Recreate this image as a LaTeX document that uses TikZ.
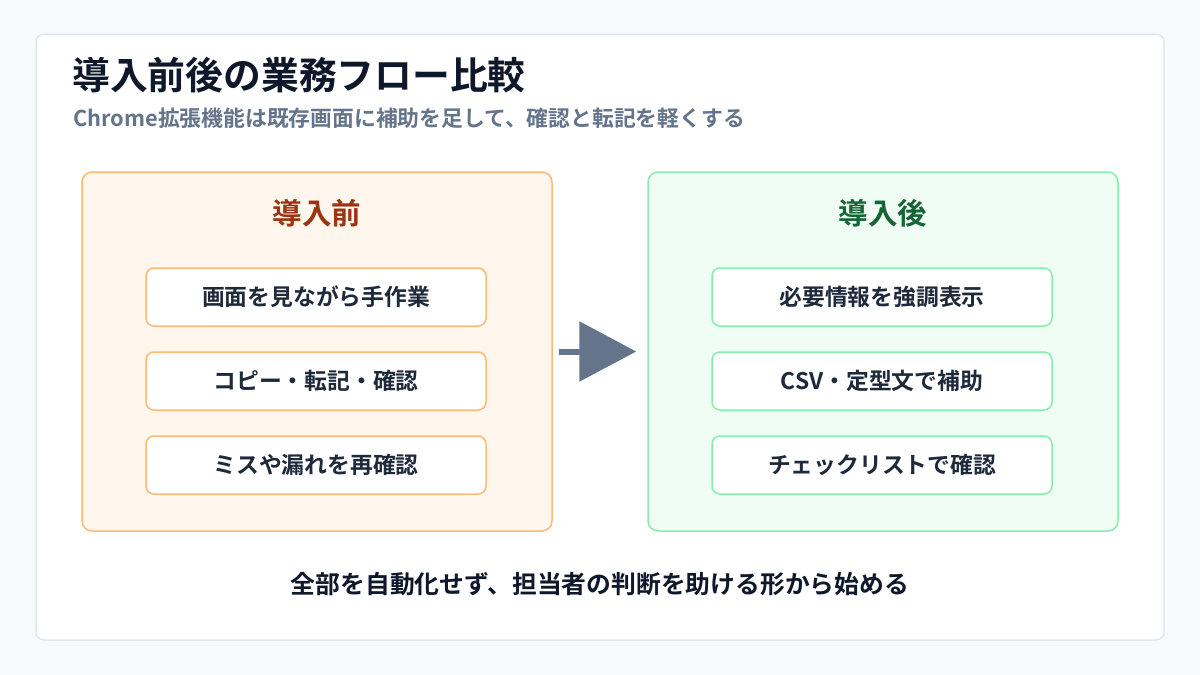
\documentclass[tikz,border=0pt]{standalone}
\usepackage{fontspec}
\setmainfont{Noto Sans CJK JP}[BoldFont={* Bold}]
\usetikzlibrary{arrows.meta}
\definecolor{bgc}{HTML}{F8FAFC}
\definecolor{cardborder}{HTML}{E2E8F0}
\definecolor{titlec}{HTML}{0F172A}
\definecolor{subc}{HTML}{64748B}
\definecolor{textc}{HTML}{1E293B}
\definecolor{orfill}{HTML}{FFF7ED}
\definecolor{ordraw}{HTML}{FDBA74}
\definecolor{ortext}{HTML}{9A3412}
\definecolor{grfill}{HTML}{F0FDF4}
\definecolor{grdraw}{HTML}{86EFAC}
\definecolor{grtext}{HTML}{166534}
\tikzset{
  panel/.style={rounded corners=10pt, line width=1.5pt, minimum width=470pt, minimum height=359pt, inner sep=0pt},
  itembox/.style={rounded corners=8pt, line width=1.5pt, fill=white, minimum width=340pt, minimum height=58pt, inner sep=0pt, font=\fontsize{22.8}{26}\selectfont\bfseries, text=textc},
  paneltitle/.style={font=\fontsize{29.5}{34}\selectfont\bfseries, inner sep=0pt},
}
\begin{document}
\begin{tikzpicture}[x=1pt,y=-1pt]
\fill[bgc] (0,0) rectangle (1200,675);
\useasboundingbox (0,0) rectangle (1200,675);
\node[draw=cardborder, fill=white, line width=1.5pt, rounded corners=8pt, minimum width=1128pt, minimum height=606pt, inner sep=0pt] (card) at (600,337) {};
\node[anchor=base west, inner sep=0pt, text=titlec, font=\fontsize{37.8}{42}\selectfont\bfseries] (title) at (72,89.5) {導入前後の業務フロー比較};
\node[anchor=base west, inner sep=0pt, text=subc, font=\fontsize{21.8}{26}\selectfont\bfseries] (sub) at (73,126.5) {Chrome拡張機能は既存画面に補助を足して、確認と転記を軽くする};
% left panel
\node[panel, draw=ordraw, fill=orfill] (L) at (317,351.5) {};
\node[paneltitle, text=ortext] (Lt) at (317,213) {導入前};
\node[itembox, draw=ordraw] (L1) at (316,297) {画面を見ながら手作業};
\node[itembox, draw=ordraw] (L2) at (316,381) {コピー・転記・確認};
\node[itembox, draw=ordraw] (L3) at (316,465) {ミスや漏れを再確認};
% right panel
\node[panel, draw=grdraw, fill=grfill] (R) at (883,351.5) {};
\node[paneltitle, text=grtext] (Rt) at (883,213) {導入後};
\node[itembox, draw=grdraw] (R1) at (882,297) {必要情報を強調表示};
\node[itembox, draw=grdraw] (R2) at (882,381) {CSV・定型文で補助};
\node[itembox, draw=grdraw] (R3) at (882,465) {チェックリストで確認};
% arrow
\draw[subc, line width=6pt, -{Triangle[length=57pt,width=59pt]}] ([xshift=6pt]L.east) -- ([xshift=-11pt]R.west);
% bottom
\node[inner sep=0pt, text=titlec, font=\fontsize{24.8}{29}\selectfont\bfseries] (foot) at (600,584) {全部を自動化せず、担当者の判断を助ける形から始める};
\end{tikzpicture}
\end{document}
